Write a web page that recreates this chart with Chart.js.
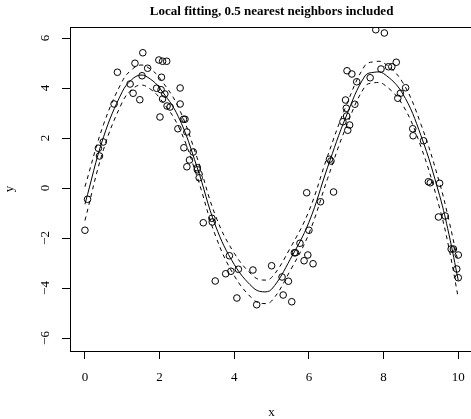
<!DOCTYPE html>
<html>
<head>
<meta charset="utf-8">
<script src="https://cdn.jsdelivr.net/npm/chart.js@4"></script>
<style>
  html, body { margin: 0; padding: 0; overflow: hidden; background: #fff; }
  #wrap { width: 480px; height: 419px; }
</style>
</head>
<body>
<div id="wrap"><canvas id="myChart" width="480" height="419"></canvas></div>
<script>
// observed points
const pointX = [0.00, 0.07, 0.36, 0.39, 0.49, 0.78, 0.87, 1.21, 1.29, 1.34, 1.47, 1.53, 1.55, 1.68,
  1.92, 1.98, 2.01, 2.04, 2.05, 2.08, 2.08, 2.14, 2.19, 2.20, 2.28, 2.49, 2.55, 2.55, 2.64, 2.68,
  2.65, 2.73, 2.73, 2.80, 2.90, 3.01, 3.01, 3.06, 3.17, 3.40, 3.41, 3.49, 3.77, 3.87, 3.91, 4.07,
  4.11, 4.50, 4.60, 5.00, 5.28, 5.31, 5.45, 5.54, 5.61, 5.64, 5.76, 5.87, 5.94, 5.97, 6.00, 6.11,
  6.31, 6.55, 6.59, 6.66, 6.91, 6.98, 7.00, 7.01, 7.02, 7.04, 7.09, 7.15, 7.23, 7.28, 7.64, 7.79,
  7.93, 8.02, 8.13, 8.22, 8.34, 8.38, 8.45, 8.59, 8.78, 8.79, 9.07, 9.20, 9.25, 9.50, 9.47, 9.65,
  9.81, 9.87, 10.00, 9.96, 10.00];
const pointY = [-1.69, -0.45, 1.59, 1.28, 1.84, 3.36, 4.63, 4.16, 3.79, 4.99, 3.53, 4.49, 5.41, 4.79,
  3.99, 5.12, 2.84, 3.93, 4.43, 5.07, 3.56, 3.76, 5.07, 3.28, 3.24, 2.37, 4.00, 3.36, 2.75, 2.75,
  1.61, 2.24, 0.85, 1.12, 1.44, 0.81, 0.73, 0.41, -1.39, -1.21, -1.36, -3.72, -3.43, -2.71, -3.33, -4.40,
  -3.25, -3.28, -4.67, -3.11, -3.56, -4.28, -3.73, -4.55, -2.59, -2.59, -2.21, -2.91, -0.19, -2.68, -1.69, -3.03,
  -0.55, 1.15, 1.08, -0.16, 2.65, 3.52, 3.19, 2.88, 4.69, 2.31, 2.52, 4.56, 3.35, 4.25, 4.41, 6.33,
  4.76, 6.20, 4.85, 4.85, 5.03, 3.59, 3.79, 4.01, 2.37, 2.09, 1.89, 0.25, 0.21, 0.19, -1.16, -1.12,
  -2.44, -2.44, -2.68, -3.24, -3.59];

// local fit and its band
const fitX = [0, 0.5, 1, 1.25, 1.5, 1.75, 2, 2.5, 3, 3.5, 4, 4.5, 4.75, 5, 5.5, 6, 6.5, 7, 7.5, 7.75, 8, 8.5, 9, 9.5, 9.75, 10];
const fitY = [-0.65, 2.05, 3.85, 4.33, 4.52, 4.36, 4.0, 2.86, 0.85, -1.52, -3.06, -3.98, -4.15, -4.05, -2.85, -1.37, 0.83, 2.88, 4.48, 4.63, 4.58, 3.8, 2.1, -0.3, -1.85, -3.7];
const upperY = [0.05, 2.55, 4.27, 4.73, 4.92, 4.76, 4.4, 3.24, 1.23, -1.12, -2.61, -3.51, -3.68, -3.58, -2.4, -0.92, 1.28, 3.3, 4.9, 5.05, 5.01, 4.25, 2.55, 0.2, -1.3, -3.0];
const lowerY = [-1.3, 1.55, 3.43, 3.93, 4.12, 3.96, 3.6, 2.48, 0.47, -1.92, -3.51, -4.45, -4.62, -4.52, -3.3, -1.82, 0.38, 2.46, 4.06, 4.21, 4.15, 3.35, 1.65, -0.8, -2.4, -4.4];

const xTicks = [0, 2, 4, 6, 8, 10];
const yTicks = [-6, -4, -2, 0, 2, 4, 6];

const serif = "'Liberation Serif', 'DejaVu Serif', serif";

const toXY = (xs, ys) => xs.map((x, i) => ({ x: x, y: ys[i] }));

const lineSet = (ys, dash) => ({
  data: toXY(fitX, ys),
  showLine: true,
  pointRadius: 0,
  borderColor: "#000",
  borderWidth: 1,
  borderDash: dash,
  tension: 0.4,
  fill: false,
});

// box round the plot region, like R's box()
const boxPlugin = {
  id: "box",
  afterDraw(chart) {
    const a = chart.chartArea;
    const c = chart.ctx;
    c.save();
    c.strokeStyle = "#000";
    c.lineWidth = 1;
    c.strokeRect(Math.round(a.left) + 0.5, Math.round(a.top) + 0.5,
      Math.round(a.right - a.left), Math.round(a.bottom - a.top));
    c.restore();
  },
};

const ctx = document.getElementById("myChart").getContext("2d");
const myChart = new Chart(ctx, {
  type: "scatter",
  data: {
    datasets: [
      {
        data: toXY(pointX, pointY),
        pointRadius: 3.3,
        pointBorderWidth: 1,
        borderColor: "#000",
        backgroundColor: "rgba(0,0,0,0)",
        showLine: false,
      },
      lineSet(fitY, []),
      lineSet(upperY, [4, 4]),
      lineSet(lowerY, [4, 4]),
    ],
  },
  plugins: [boxPlugin],
  options: {
    responsive: false,
    animation: false,
    events: [],
    layout: { padding: { left: 0, right: 6.8, top: 0, bottom: 0 } },
    plugins: {
      legend: { display: false },
      tooltip: { enabled: false },
      title: {
        display: true,
        text: "Local fitting, 0.5 nearest neighbors included",
        fullSize: false,
        color: "#000",
        font: { family: serif, size: 13, weight: "bold", lineHeight: 1.2 },
        padding: { top: 4, bottom: 7.4 },
      },
    },
    scales: {
      x: {
        type: "linear",
        min: -0.4,
        max: 10.4,
        afterBuildTicks: (scale) => { scale.ticks = xTicks.map((v) => ({ value: v })); },
        afterFit: (scale) => { scale.height = 68; },
        grid: { drawOnChartArea: false, drawTicks: true, tickLength: 8, color: "#000", lineWidth: 1 },
        border: { display: false },
        ticks: { color: "#000", padding: 11, maxRotation: 0, font: { family: serif, size: 13 } },
        title: {
          display: true,
          text: "x",
          color: "#000",
          font: { family: serif, size: 13, lineHeight: 1 },
          padding: { top: 0, bottom: 0 },
        },
      },
      y: {
        type: "linear",
        min: -6.52,
        max: 6.44,
        afterBuildTicks: (scale) => { scale.ticks = yTicks.map((v) => ({ value: v })); },
        afterFit: (scale) => { scale.width = 70; },
        grid: { drawOnChartArea: false, drawTicks: true, tickLength: 8, color: "#000", lineWidth: 1 },
        border: { display: false },
        ticks: {
          color: "#000",
          padding: 10,
          minRotation: 90,
          maxRotation: 90,
          crossAlign: "center",
          font: { family: serif, size: 13 },
          callback: (v) => String(v).replace("-", "\u2212"),
        },
        title: {
          display: true,
          text: "y",
          color: "#000",
          font: { family: serif, size: 13, lineHeight: 1.2 },
          padding: { top: 1.5, bottom: 0 },
        },
      },
    },
  },
});
</script>
</body>
</html>
